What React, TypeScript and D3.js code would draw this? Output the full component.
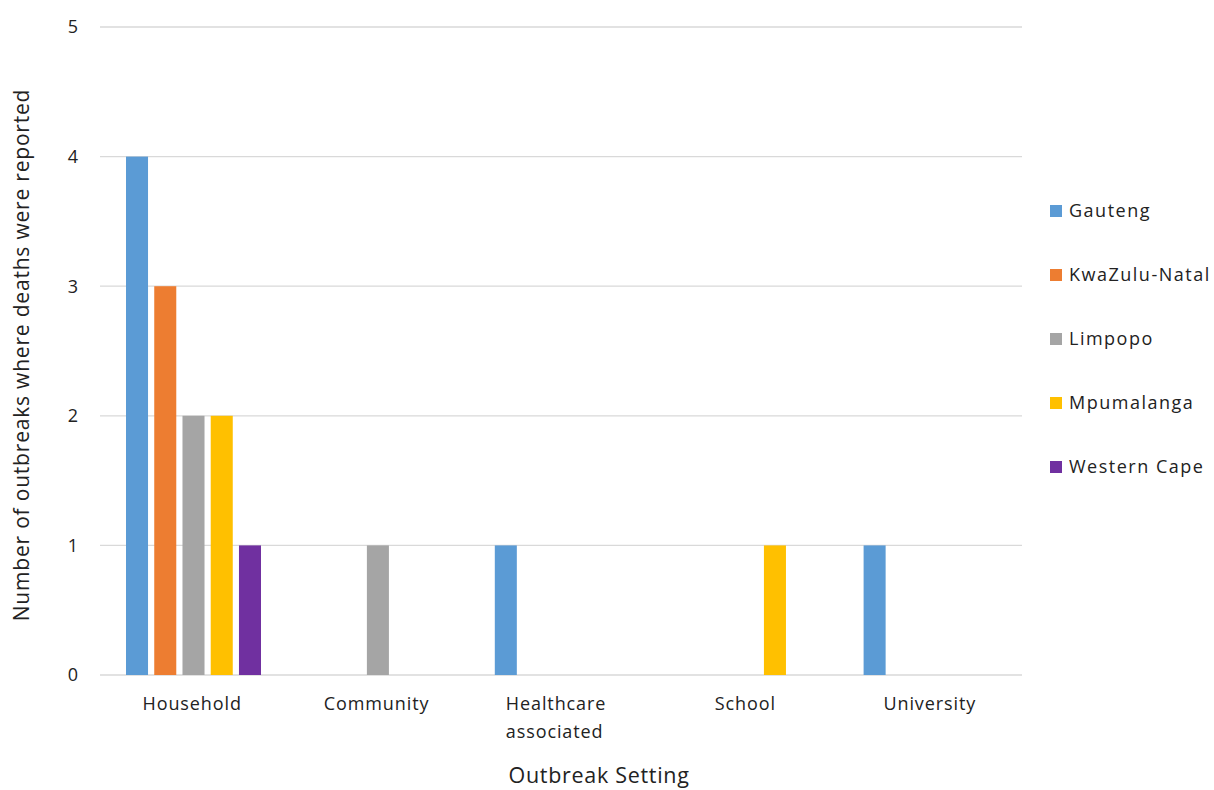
import React from "react";
import * as d3 from "d3";

const categories = ["Household", "Community", "Healthcare associated", "School", "University"];
const categoryLines = [["Household"], ["Community"], ["Healthcare", "associated"], ["School"], ["University"]];
const seriesNames = ["Gauteng", "KwaZulu-Natal", "Limpopo", "Mpumalanga", "Western Cape"];
const seriesColors = ["#5B9BD5", "#ED7D31", "#A5A5A5", "#FFC000", "#7030A0"];
const gauteng = [4, 0, 1, 0, 1];
const kwazulu = [3, 0, 0, 0, 0];
const limpopo = [2, 1, 0, 0, 0];
const mpumalanga = [2, 0, 0, 1, 0];
const westernCape = [1, 0, 0, 0, 0];
const seriesValues = [gauteng, kwazulu, limpopo, mpumalanga, westernCape];
const yTicks = [0, 1, 2, 3, 4, 5];

const W = 1214, H = 790;
const left = 100, right = 1022, top = 27, bottom = 675;
const FONT = "'Open Sans', sans-serif";

export default function App() {
  const x0 = d3.scaleBand<string>().domain(categories).range([left, right]).paddingInner(0).paddingOuter(0);
  const x1 = d3.scaleBand<string>().domain(seriesNames).range([26, 161]).paddingInner(0.22).paddingOuter(0);
  const y = d3.scaleLinear().domain([0, 5]).range([bottom, top]);

  return (
    <svg width={W} height={H} style={{ position: "absolute", left: 0, top: 0, background: "#fff" }} fontFamily={FONT}>
      {yTicks.map((t) => (
        <g key={t}>
          <line x1={left} x2={right} y1={y(t)} y2={y(t)} stroke="#D9D9D9" strokeWidth={1.3} />
          <text x={78} y={y(t)} dy="0.35em" textAnchor="end" fontSize={18} fill="#222">{t}</text>
        </g>
      ))}
      {categories.map((c, ci) => (
        <g key={c}>
          {seriesNames.map((s, si) => {
            const v = seriesValues[si][ci];
            if (!v) return null;
            return (
              <rect key={s} x={(x0(c) as number) + (x1(s) as number)} width={x1.bandwidth()}
                y={y(v)} height={y(0) - y(v)} fill={seriesColors[si]} />
            );
          })}
          {categoryLines[ci].map((ln, li) => (
            <text key={li} x={(x0(c) as number) + (ci === 2 ? 37 : x0.bandwidth() / 2)} y={710 + li * 28}
              textAnchor={ci === 2 ? "start" : "middle"} fontSize={18} fill="#222" letterSpacing={0.9}>{ln}</text>
          ))}
        </g>
      ))}
      <text x={599} y={783} textAnchor="middle" fontSize={21.5} fill="#222" letterSpacing={0.7}>Outbreak Setting</text>
      <text transform={`translate(29, 355) rotate(-90)`} textAnchor="middle" fontSize={21} fill="#222" letterSpacing={0.8}>
        Number of outbreaks where deaths were reported
      </text>
      {seriesNames.map((s, i) => (
        <g key={s} transform={`translate(1050, ${211 + i * 64})`}>
          <rect x={0} y={-6} width={12} height={12} fill={seriesColors[i]} />
          <text x={19} y={0} dy="0.35em" fontSize={18} fill="#222" letterSpacing={1.5}>{s}</text>
        </g>
      ))}
    </svg>
  );
}
